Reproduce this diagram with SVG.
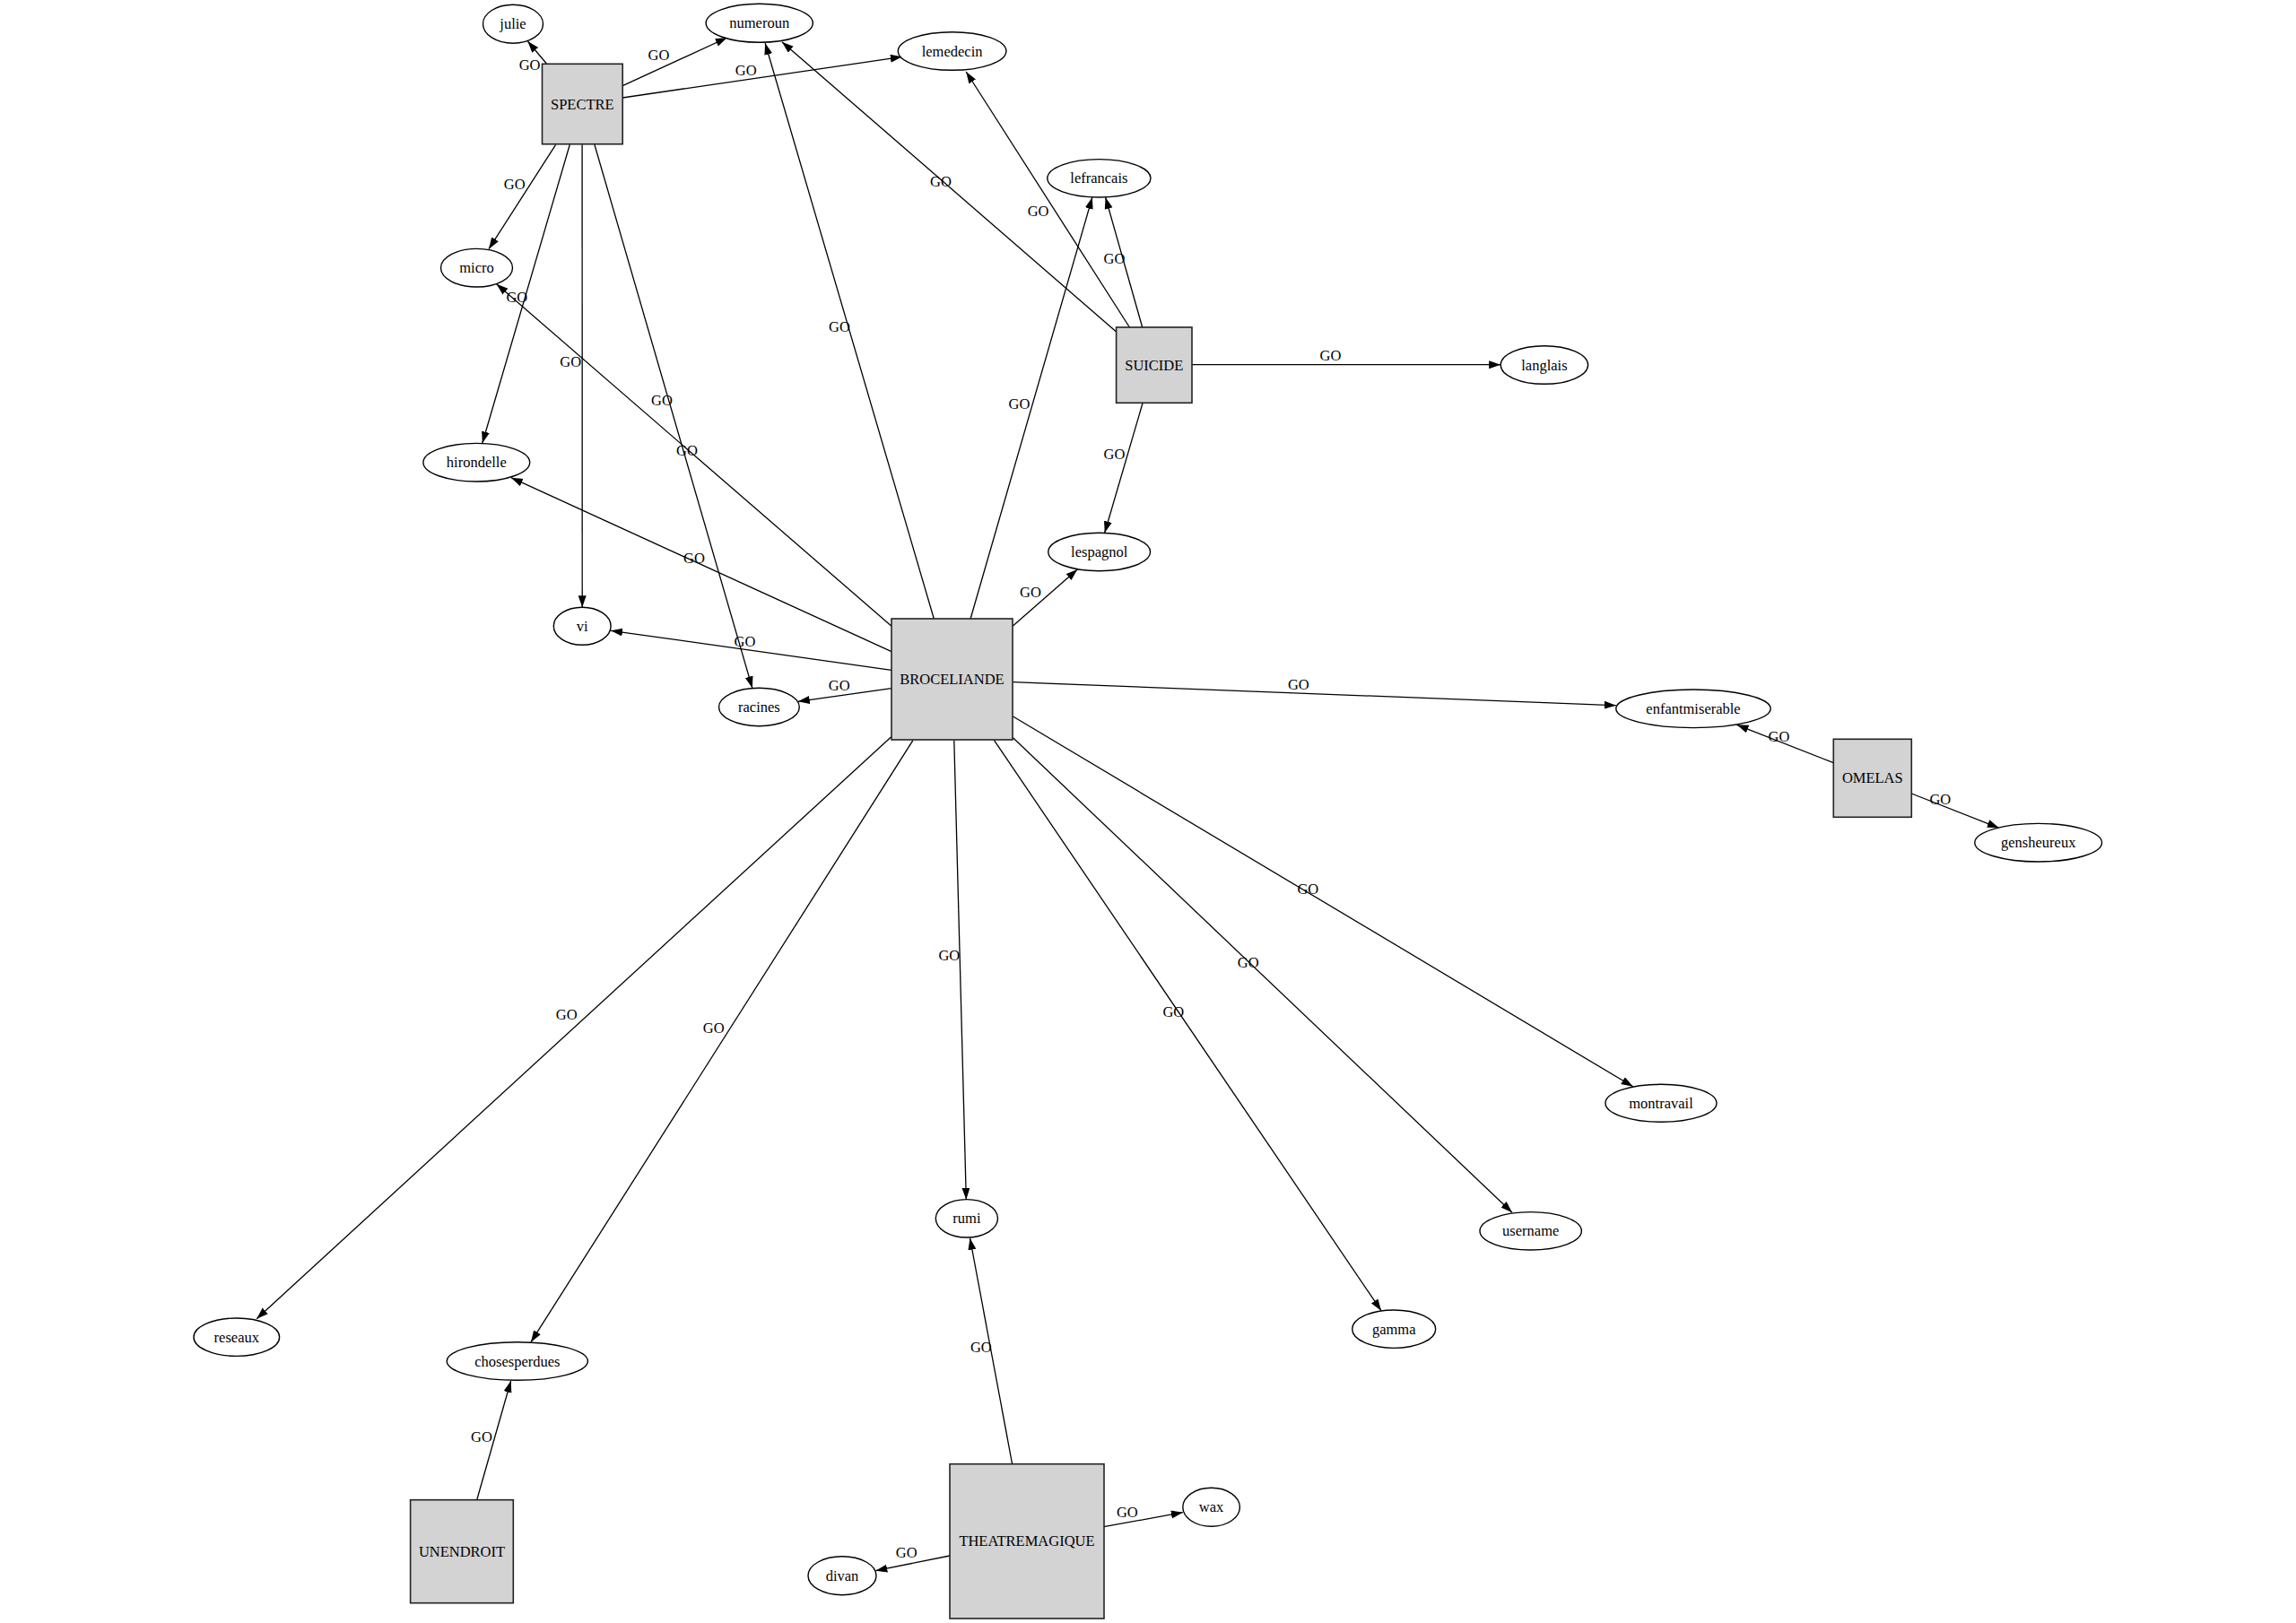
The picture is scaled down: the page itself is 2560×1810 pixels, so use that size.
<svg xmlns="http://www.w3.org/2000/svg" width="2560" height="1810" viewBox="0 0 2560 1810">
<defs>
<marker id="arr" markerUnits="userSpaceOnUse" markerWidth="14" markerHeight="10" refX="13" refY="4.5" orient="auto">
<path d="M0,0 L13,4.5 L0,9 z" fill="#000"/>
</marker>
<style>
.e{stroke:#000;stroke-width:1.3;fill:none;marker-end:url(#arr)}
.n ellipse{fill:#fff;stroke:#000;stroke-width:1.4}
.n rect{fill:#d3d3d3;stroke:#222;stroke-width:1.6}
text{font-family:"Liberation Serif","Times New Roman",serif;font-size:16.5px;text-anchor:middle;fill:#000}
</style>
</defs>
<rect width="2560" height="1810" fill="#fff"/>
<g id="connectors">
<line class="e" x1="609.4" y1="71" x2="588.4" y2="46"/>
<line class="e" x1="694.2" y1="95.7" x2="810.7" y2="42"/>
<line class="e" x1="694.2" y1="109" x2="1005.8" y2="63.3"/>
<line class="e" x1="619.6" y1="161.3" x2="545" y2="277.7"/>
<line class="e" x1="635.3" y1="161.3" x2="537.8" y2="494.3"/>
<line class="e" x1="649.1" y1="161.3" x2="649.2" y2="677.3"/>
<line class="e" x1="662.9" y1="161.3" x2="838.8" y2="767.3"/>
<line class="e" x1="1244.6" y1="370" x2="871.9" y2="46.7"/>
<line class="e" x1="1259.4" y1="365" x2="1077.2" y2="80"/>
<line class="e" x1="1273.7" y1="365" x2="1232.6" y2="220"/>
<line class="e" x1="1329" y1="406.7" x2="1673.2" y2="406.7"/>
<line class="e" x1="1274.1" y1="449.3" x2="1231.7" y2="594.3"/>
<line class="e" x1="994" y1="698.3" x2="553.6" y2="316.7"/>
<line class="e" x1="1041.3" y1="690" x2="853.1" y2="48"/>
<line class="e" x1="1082.1" y1="690" x2="1217.9" y2="220"/>
<line class="e" x1="994" y1="726.7" x2="569.9" y2="532.7"/>
<line class="e" x1="994" y1="747.3" x2="681.1" y2="703.3"/>
<line class="e" x1="994" y1="767.7" x2="889.8" y2="782.3"/>
<line class="e" x1="1129.1" y1="698.3" x2="1201.3" y2="635"/>
<line class="e" x1="1129.5" y1="760.7" x2="1801.8" y2="786.7"/>
<line class="e" x1="1129.5" y1="799" x2="1820.7" y2="1211.7"/>
<line class="e" x1="1129.5" y1="822.7" x2="1686" y2="1352.3"/>
<line class="e" x1="1108.5" y1="825.7" x2="1540" y2="1461.7"/>
<line class="e" x1="1063.8" y1="825.7" x2="1077.3" y2="1337.7"/>
<line class="e" x1="1017.9" y1="825.7" x2="592" y2="1496.7"/>
<line class="e" x1="993.7" y1="821.7" x2="286.2" y2="1470.7"/>
<line class="e" x1="2044.3" y1="850.7" x2="1936.5" y2="808.3"/>
<line class="e" x1="2131.4" y1="885" x2="2228.8" y2="923.3"/>
<line class="e" x1="531.7" y1="1672.7" x2="569.6" y2="1540"/>
<line class="e" x1="1128.6" y1="1632.7" x2="1081.5" y2="1380.7"/>
<line class="e" x1="1230.8" y1="1702.7" x2="1318.8" y2="1686.7"/>
<line class="e" x1="1059" y1="1735" x2="976.3" y2="1751.7"/>
<g id="edge-labels">
<text x="590.6" y="78.2">GO</text>
<text x="734.4" y="67.2">GO</text>
<text x="831.7" y="83.8">GO</text>
<text x="573.7" y="210.5">GO</text>
<text x="576.3" y="337.2">GO</text>
<text x="636.2" y="408.8">GO</text>
<text x="738" y="452.2">GO</text>
<text x="1049" y="207.5">GO</text>
<text x="1157.6" y="240.5">GO</text>
<text x="1242.4" y="293.5">GO</text>
<text x="1483.5" y="402.2">GO</text>
<text x="1242.4" y="511.5">GO</text>
<text x="766" y="507.5">GO</text>
<text x="936" y="369.5">GO</text>
<text x="1136.4" y="456.1">GO</text>
<text x="774" y="627.8">GO</text>
<text x="830.5" y="721">GO</text>
<text x="935.7" y="769.5">GO</text>
<text x="1149" y="666.2">GO</text>
<text x="1447.8" y="768.8">GO</text>
<text x="1458.3" y="997.2">GO</text>
<text x="1391.7" y="1078.8">GO</text>
<text x="1308.3" y="1133.8">GO</text>
<text x="1058.3" y="1071.2">GO</text>
<text x="795.7" y="1151.5">GO</text>
<text x="631.7" y="1137.2">GO</text>
<text x="1983.4" y="827.2">GO</text>
<text x="2163.3" y="897.2">GO</text>
<text x="537" y="1607.8">GO</text>
<text x="1093.8" y="1507.8">GO</text>
<text x="1256.8" y="1691.5">GO</text>
<text x="1010.7" y="1737.2">GO</text>
</g>
</g>
<g id="julie" class="n"><ellipse cx="572" cy="26.7" rx="33.5" ry="21.5"/><text x="572" y="32.2">julie</text></g>
<g id="numeroun" class="n"><ellipse cx="846.7" cy="25.8" rx="59.6" ry="21.5"/><text x="846.7" y="31.3">numeroun</text></g>
<g id="lemedecin" class="n"><ellipse cx="1061.6" cy="57" rx="60.3" ry="21.3"/><text x="1061.6" y="62.5">lemedecin</text></g>
<g id="micro" class="n"><ellipse cx="531.5" cy="298.7" rx="40" ry="21.3"/><text x="531.5" y="304.2">micro</text></g>
<g id="hirondelle" class="n"><ellipse cx="531.3" cy="515.7" rx="59.4" ry="21.3"/><text x="531.3" y="521.2">hirondelle</text></g>
<g id="vi" class="n"><ellipse cx="649.2" cy="698.3" rx="31.9" ry="21"/><text x="649.2" y="703.8">vi</text></g>
<g id="racines" class="n"><ellipse cx="846.4" cy="788.5" rx="44.9" ry="21.2"/><text x="846.4" y="794">racines</text></g>
<g id="lefrancais" class="n"><ellipse cx="1225.4" cy="198.8" rx="57.6" ry="21.2"/><text x="1225.4" y="204.3">lefrancais</text></g>
<g id="langlais" class="n"><ellipse cx="1721.9" cy="407" rx="48.7" ry="21.3"/><text x="1721.9" y="412.5">langlais</text></g>
<g id="lespagnol" class="n"><ellipse cx="1225.7" cy="615.5" rx="56.9" ry="21.2"/><text x="1225.7" y="621">lespagnol</text></g>
<g id="enfantmiserable" class="n"><ellipse cx="1888" cy="790.3" rx="86.2" ry="21.3"/><text x="1888" y="795.8">enfantmiserable</text></g>
<g id="gensheureux" class="n"><ellipse cx="2272.7" cy="939.7" rx="70.9" ry="21.3"/><text x="2272.7" y="945.2">gensheureux</text></g>
<g id="montravail" class="n"><ellipse cx="1852" cy="1230.3" rx="62" ry="21"/><text x="1852" y="1235.8">montravail</text></g>
<g id="username" class="n"><ellipse cx="1706.7" cy="1372.8" rx="56.7" ry="21.2"/><text x="1706.7" y="1378.3">username</text></g>
<g id="gamma" class="n"><ellipse cx="1554.2" cy="1482.2" rx="46.5" ry="21.2"/><text x="1554.2" y="1487.7">gamma</text></g>
<g id="rumi" class="n"><ellipse cx="1077.9" cy="1358.8" rx="34.6" ry="21.2"/><text x="1077.9" y="1364.3">rumi</text></g>
<g id="reseaux" class="n"><ellipse cx="263.8" cy="1491.2" rx="47.8" ry="21.2"/><text x="263.8" y="1496.7">reseaux</text></g>
<g id="chosesperdues" class="n"><ellipse cx="576.8" cy="1518" rx="78.6" ry="21.3"/><text x="576.8" y="1523.5">chosesperdues</text></g>
<g id="wax" class="n"><ellipse cx="1350.6" cy="1680.8" rx="31.8" ry="21.5"/><text x="1350.6" y="1686.3">wax</text></g>
<g id="divan" class="n"><ellipse cx="939" cy="1757.2" rx="38" ry="21.5"/><text x="939" y="1762.7">divan</text></g>
<g id="SPECTRE" class="n"><rect x="604.5" y="71.3" width="89.7" height="89.4"/><text x="649.3" y="121.5">SPECTRE</text></g>
<g id="SUICIDE" class="n"><rect x="1244.6" y="365" width="84.4" height="84.3"/><text x="1286.8" y="412.6">SUICIDE</text></g>
<g id="BROCELIANDE" class="n"><rect x="994" y="690" width="135" height="135"/><text x="1061.5" y="763">BROCELIANDE</text></g>
<g id="OMELAS" class="n"><rect x="2044.3" y="824.3" width="87" height="87"/><text x="2087.8" y="873.3">OMELAS</text></g>
<g id="UNENDROIT" class="n"><rect x="457.6" y="1672.7" width="114.7" height="115"/><text x="515" y="1735.7">UNENDROIT</text></g>
<g id="THEATREMAGIQUE" class="n"><rect x="1059" y="1632.7" width="172" height="172.3"/><text x="1145" y="1724.3">THEATREMAGIQUE</text></g>
</svg>
